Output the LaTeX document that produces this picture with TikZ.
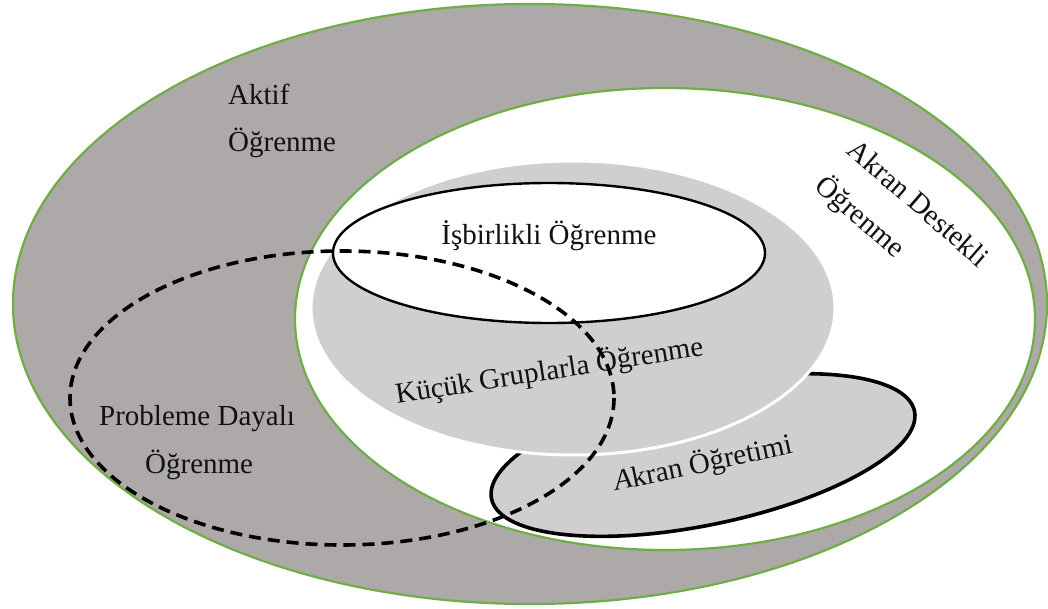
\documentclass[tikz,border=0pt]{standalone}
\usepackage{fontspec}
\setmainfont{Liberation Serif}
\definecolor{outergray}{HTML}{ADA9A8}
\definecolor{softgray}{HTML}{D0CECE}
\definecolor{leafgreen}{HTML}{70AD47}
\definecolor{inktext}{HTML}{111111}
\begin{document}
\begin{tikzpicture}[x=1pt,y=-1pt,
  lbl/.style={font=\fontsize{29}{34}\selectfont, inner sep=0pt, text=inktext},
  greenring/.style={draw=leafgreen, line width=2.2pt},
  dashring/.style={draw=black, line width=3.6pt, dash pattern=on 12pt off 7pt}]
\useasboundingbox (0,0) rectangle (1048,609);
\fill[white] (0,0) rectangle (1048,609);
% Aktif Ogrenme
\filldraw[fill=outergray, greenring] (530,304) ellipse [x radius=517, y radius=300];
% Akran Destekli Ogrenme
\filldraw[fill=white, greenring] (665,319) ellipse [x radius=370, y radius=231];
% Akran Ogretimi
\filldraw[fill=softgray, draw=black, line width=3.6pt, rotate around={11.7:(703,455)}] (703,455) ellipse [x radius=216, y radius=70];
% Kucuk Gruplarla Ogrenme
\filldraw[fill=softgray, draw=white, line width=3pt] (573,308) ellipse [x radius=262, y radius=147];
% Isbirlikli Ogrenme
\filldraw[fill=white, draw=black, line width=2.4pt] (549,253) ellipse [x radius=216, y radius=70];
% texts
\node[lbl, anchor=base west] (aktif) at (228,105) {Aktif};
\node[lbl, anchor=base west] (aktif2) at (228,152) {Öğrenme};
\node[lbl, rotate=-41] (ad) at (919,203) {Akran Destekli};
\node[lbl, rotate=-41] (ad2) at (860,217) {Öğrenme};
\node[lbl, anchor=base] (isb) at (549,245) {İşbirlikli Öğrenme};
\node[lbl, rotate=9, anchor=base west] (kg) at (397,404) {Küçük Gruplarla Öğrenme};
\node[lbl, anchor=base west] (pd) at (99,425) {Probleme Dayalı};
\node[lbl, anchor=base west] (pd2) at (145,473) {Öğrenme};
\node[lbl, rotate=12, anchor=base west] (ao) at (616,491) {\textit{A}kran Öğretimi};
% Probleme Dayali Ogrenme (dashed)
\draw[dashring] (342,398) ellipse [x radius=272, y radius=147];
\end{tikzpicture}
\end{document}
